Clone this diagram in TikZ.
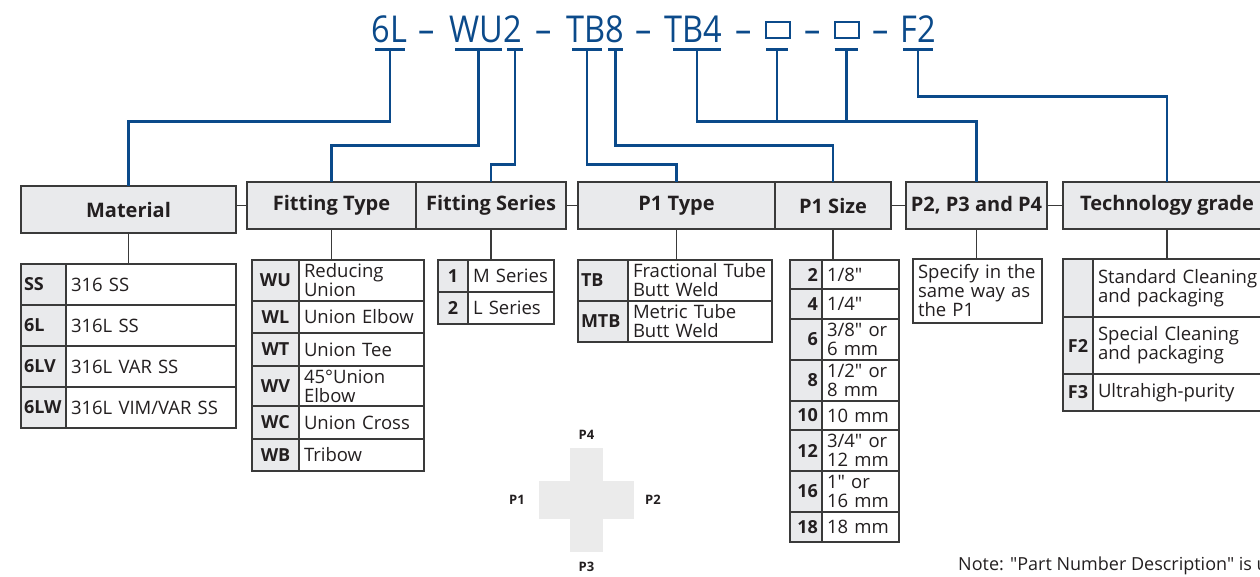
\documentclass[tikz,border=0pt]{standalone}
\usepackage{fontspec}
\setmainfont[Ligatures=TeXOff]{Open Sans}
\newfontfamily\titlefont[FakeStretch=0.88]{Open Sans}
\usetikzlibrary{positioning}
\definecolor{partBlue}{HTML}{0B4A8A}
\definecolor{cellGray}{HTML}{E9EAEC}
\definecolor{edgeGray}{HTML}{3A3A3A}
\definecolor{inkGray}{HTML}{231F20}
\definecolor{crossGray}{HTML}{EBEBEB}

\begin{document}
\begin{tikzpicture}[x=1pt, y=-1pt,
    pnum/.style={text=partBlue, font=\titlefont\fontsize{37}{40}\selectfont,
                 inner sep=0pt, anchor=base},
    pbox/.style={draw=partBlue, line width=2pt, minimum width=24pt,
                 minimum height=16pt, inner sep=0pt},
    uline/.style={fill=partBlue, inner sep=0pt, minimum height=3pt,
                  minimum width=#1},
    numline/.style={draw=partBlue, line width=2.2pt},
    headbox/.style={rectangle, draw=edgeGray, fill=cellGray, line width=1.5pt,
                    outer sep=0pt, minimum height=47pt, inner sep=2pt,
                    text=inkGray, font=\bfseries\fontsize{20}{22}\selectfont},
    cell/.style={rectangle, draw=edgeGray, line width=1.3pt, outer sep=0pt,
                 inner ysep=1pt, text=inkGray,
                 font=\fontsize{18.5}{19}\selectfont},
    keycell/.style={cell, fill=cellGray, inner xsep=3pt, text width=#1,
                    font=\bfseries\fontsize{18}{19}\selectfont},
    desccell/.style={cell, fill=white, inner xsep=5pt, text width=#1,
                     align=left},
    stub/.style={draw=edgeGray, line width=1.3pt},
    plabel/.style={text=inkGray, font=\bfseries\fontsize{13}{15}\selectfont},
]
    \useasboundingbox (0,0) rectangle (1260,576);

    % part number
    \node[pnum] (pmat) at (389.5,42) {6L};
    \node[pnum] (dasha) at (426.5,42) {–};
    \node[pnum] (pfit) at (485.5,42) {WU2};
    \node[pnum] (dashb) at (544,42) {–};
    \node[pnum] (pone) at (595,42) {TB8};
    \node[pnum] (dashc) at (644,42) {–};
    \node[pnum] (pthree) at (693.5,42) {TB4};
    \node[pnum] (dashd) at (744,42) {–};
    \node[pbox] (pboxa) at (778,30) {};
    \node[pnum] (dashe) at (812.5,42) {–};
    \node[pbox] (pboxb) at (846.5,30) {};
    \node[pnum] (dashf) at (881,42) {–};
    \node[pnum] (pgrade) at (918.5,42) {F2};

    \node[uline=30pt] (u6L) at (390,49) {};
    \node[uline=47pt] (uWU) at (478.5,49) {};
    \node[uline=16pt] (uSeries) at (515,49) {};
    \node[uline=30pt] (uTB) at (587,49) {};
    \node[uline=15pt] (uSize) at (615.5,49) {};
    \node[uline=48pt] (uTBfour) at (697,49) {};
    \node[uline=22pt] (uBoxa) at (777,49) {};
    \node[uline=23pt] (uBoxb) at (846.5,49) {};
    \node[uline=30pt] (uF2) at (918,49) {};

    % headers
    \node[headbox, minimum width=215pt] (material) at (128.5,209.5) {Material};
    \node[headbox, minimum width=169pt] (fittype) at (331.5,205.5) {Fitting Type};
    \node[headbox, minimum width=150pt, right=0pt of fittype] (fitseries) {Fitting Series};
    \node[headbox, minimum width=197pt] (p1type) at (676.5,205.5) {P1 Type};
    \node[headbox, minimum width=116pt, right=0pt of p1type] (p1size) {P1 Size};
    \node[headbox, minimum width=141pt] (pother) at (976.5,205.5) {P2, P3 and P4};
    \node[headbox, minimum width=208pt] (techgrade) at (1167,205.5) {Technology grade};

    \draw[numline] (u6L) -- ++(0,72.5) -| (material.north);
    \draw[numline] (uWU) -- ++(0,96.5) -| (fittype.north);
    \draw[numline] (uSeries) -- ++(0,115.5) -| (fitseries.north);
    \draw[numline] (uTB) -- ++(0,115.5) -| (p1type.north);
    \draw[numline] (uSize) -- ++(0,96.5) -| (p1size.north);
    \draw[numline] (uTBfour) -- ++(0,72.5) -| (pother.north);
    \draw[numline] (uBoxa) -- ++(0,72.5);
    \draw[numline] (uBoxb) -- ++(0,72.5);
    \draw[numline] (uF2) -- ++(0,47.5) -| (techgrade.north);

    \draw[stub] (material.east |- fittype.west) -- (fittype.west);
    \draw[stub] (fitseries.east) -- (p1type.west);
    \draw[stub] (p1size.east) -- (pother.west);
    \draw[stub] (pother.east) -- (techgrade.west);

    % material table
    \node[keycell=39pt, align=left, minimum height=41pt, anchor=north west] (ssC) at (21,264) {SS};
    \node[desccell=160pt, minimum height=41pt, right=0pt of ssC] (ssD) {316 SS};
    \node[keycell=39pt, align=left, minimum height=41pt, below=0pt of ssC] (slC) {6L};
    \node[desccell=160pt, minimum height=41pt, right=0pt of slC] (slD) {316L SS};
    \node[keycell=39pt, align=left, minimum height=41pt, below=0pt of slC] (slvC) {6LV};
    \node[desccell=160pt, minimum height=41pt, right=0pt of slvC] (slvD) {316L VAR SS};
    \node[keycell=39pt, align=left, minimum height=41pt, below=0pt of slvC] (slwC) {6LW};
    \node[desccell=160pt, minimum height=41pt, right=0pt of slwC] (slwD) {316L~VIM/VAR~SS};

    % fitting type table
    \node[keycell=41pt, align=center, minimum height=41pt, anchor=north west] (wuC) at (252,260) {WU};
    \node[desccell=115pt, minimum height=41pt, right=0pt of wuC] (wuD) {Reducing\\Union};
    \node[keycell=41pt, align=center, minimum height=32pt, below=0pt of wuC] (wlC) {WL};
    \node[desccell=115pt, minimum height=32pt, right=0pt of wlC] (wlD) {Union~Elbow};
    \node[keycell=41pt, align=center, minimum height=33pt, below=0pt of wlC] (wtC) {WT};
    \node[desccell=115pt, minimum height=33pt, right=0pt of wtC] (wtD) {Union~Tee};
    \node[keycell=41pt, align=center, minimum height=40pt, below=0pt of wtC] (wvC) {WV};
    \node[desccell=115pt, minimum height=40pt, right=0pt of wvC] (wvD) {45°Union\\Elbow};
    \node[keycell=41pt, align=center, minimum height=33pt, below=0pt of wvC] (wcC) {WC};
    \node[desccell=115pt, minimum height=33pt, right=0pt of wcC] (wcD) {Union~Cross};
    \node[keycell=41pt, align=center, minimum height=32pt, below=0pt of wcC] (wbC) {WB};
    \node[desccell=115pt, minimum height=32pt, right=0pt of wbC] (wbD) {Tribow};

    % fitting series table
    \node[keycell=24pt, align=center, minimum height=32pt, anchor=north west] (mC) at (438,260) {1};
    \node[desccell=76pt, minimum height=32pt, right=0pt of mC] (mD) {M~Series};
    \node[keycell=24pt, align=center, minimum height=32pt, below=0pt of mC] (lC) {2};
    \node[desccell=76pt, minimum height=32pt, right=0pt of lC] (lD) {L~Series};

    % P1 type table
    \node[keycell=44pt, align=left, minimum height=41pt, anchor=north west] (tbC) at (578,260) {TB};
    \node[desccell=134pt, minimum height=41pt, right=0pt of tbC] (tbD) {Fractional~Tube\\Butt~Weld};
    \node[keycell=44pt, align=left, minimum height=41pt, below=0pt of tbC] (mtbC) {MTB};
    \node[desccell=134pt, minimum height=41pt, right=0pt of mtbC] (mtbD) {Metric~Tube\\Butt~Weld};

    % P1 size table
    \node[keycell=24pt, inner xsep=4pt, align=right, minimum height=29pt, anchor=north west] (szaC) at (790,260) {2};
    \node[desccell=67pt, minimum height=29pt, right=0pt of szaC] (szaD) {1/8"};
    \node[keycell=24pt, inner xsep=4pt, align=right, minimum height=30pt, below=0pt of szaC] (szbC) {4};
    \node[desccell=67pt, minimum height=30pt, right=0pt of szbC] (szbD) {1/4"};
    \node[keycell=24pt, inner xsep=4pt, align=right, minimum height=41pt, below=0pt of szbC] (szcC) {6};
    \node[desccell=67pt, minimum height=41pt, right=0pt of szcC] (szcD) {3/8"~or\\6~mm};
    \node[keycell=24pt, inner xsep=4pt, align=right, minimum height=41pt, below=0pt of szcC] (szdC) {8};
    \node[desccell=67pt, minimum height=41pt, right=0pt of szdC] (szdD) {1/2"~or\\8~mm};
    \node[keycell=24pt, inner xsep=4pt, align=right, minimum height=29pt, below=0pt of szdC] (szeC) {10};
    \node[desccell=67pt, minimum height=29pt, right=0pt of szeC] (szeD) {10~mm};
    \node[keycell=24pt, inner xsep=4pt, align=right, minimum height=41pt, below=0pt of szeC] (szfC) {12};
    \node[desccell=67pt, minimum height=41pt, right=0pt of szfC] (szfD) {3/4"~or\\12~mm};
    \node[keycell=24pt, inner xsep=4pt, align=right, minimum height=41pt, below=0pt of szfC] (szgC) {16};
    \node[desccell=67pt, minimum height=41pt, right=0pt of szgC] (szgD) {1"~or\\16~mm};
    \node[keycell=24pt, inner xsep=4pt, align=right, minimum height=30pt, below=0pt of szgC] (szhC) {18};
    \node[desccell=67pt, minimum height=30pt, right=0pt of szhC] (szhD) {18~mm};

    % P2, P3 and P4
    \node[desccell=119pt, minimum height=64pt, anchor=north west] (pspec) at (913,259)
         {Specify in the\\same way as\\the P1};

    % technology grade table
    \node[keycell=24pt, align=center, minimum height=58pt, anchor=north west] (stdC) at (1063,259) {};
    \node[desccell=172pt, minimum height=58pt, right=0pt of stdC] (stdD) {Standard~Cleaning\\and packaging};
    \node[keycell=24pt, align=center, minimum height=57pt, below=0pt of stdC] (spcC) {F2};
    \node[desccell=172pt, minimum height=57pt, right=0pt of spcC] (spcD) {Special~Cleaning\\and packaging};
    \node[keycell=24pt, align=center, minimum height=37pt, below=0pt of spcC] (uhpC) {F3};
    \node[desccell=172pt, minimum height=37pt, right=0pt of uhpC] (uhpD) {Ultrahigh-purity};

    \draw[stub] (material.south) -- (material.south |- ssC.north);
    \draw[stub] (fittype.south) -- (fittype.south |- wuC.north);
    \draw[stub] (fitseries.south) -- (fitseries.south |- mC.north);
    \draw[stub] (p1type.south) -- (p1type.south |- tbC.north);
    \draw[stub] (p1size.south) -- (p1size.south |- szaC.north);
    \draw[stub] (pother.south) -- (pother.south |- pspec.north);
    \draw[stub] (techgrade.south) -- (techgrade.south |- stdC.north);

    % port sketch
    \fill[crossGray] (570,448) rectangle (603,552);
    \fill[crossGray] (539,481) rectangle (634,519);
    \node[plabel] (pfour) at (586.5,435) {P4};
    \node[plabel] (pportone) at (517,500) {P1};
    \node[plabel] (pporttwo) at (653,500) {P2};
    \node[plabel] (pthreelbl) at (586.5,567) {P3};

    \node[anchor=base west, inner sep=0pt, text=inkGray,
          font=\fontsize{18}{20}\selectfont] (note) at (958,570)
         {Note: "Part Number Description" is u};
\end{tikzpicture}
\end{document}
